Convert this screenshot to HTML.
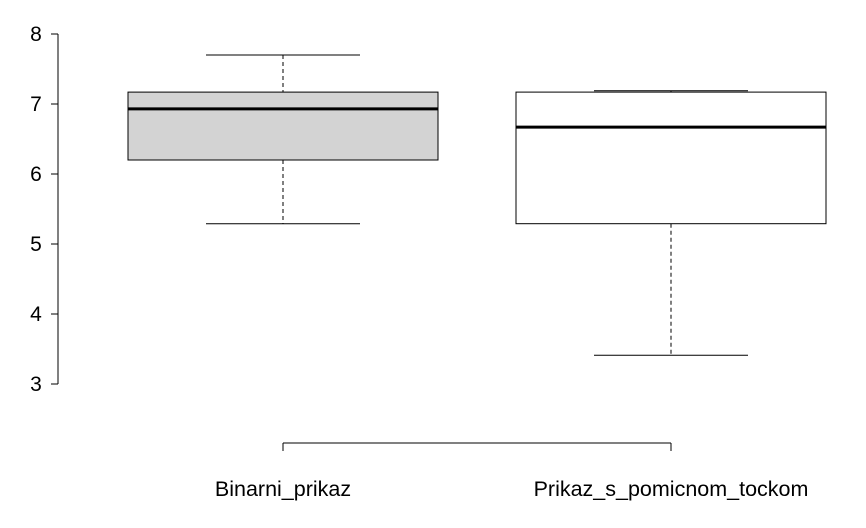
<!DOCTYPE html>
<html><head><meta charset="utf-8"><style>
body{margin:0;background:#fff}
svg{display:block;font-family:"Liberation Sans",Arial,sans-serif}
</style></head><body>
<svg id="chart" width="866" height="528" xmlns="http://www.w3.org/2000/svg"></svg>
<script>
const categories=["Binarni_prikaz","Prikaz_s_pomicnom_tockom"];
const whiskerLow=[5.29,3.41];
const q1=[6.2,5.29];
const medians=[6.93,6.67];
const q3=[7.17,7.17];
const whiskerHigh=[7.7,7.19];
const fills=["#d3d3d3","#ffffff"];
const yTicks=[3,4,5,6,7,8];

const svg=document.getElementById('chart');
const NS="http://www.w3.org/2000/svg";
const y=v=>384-(v-3)*70;
const x=i=>283+i*388;
const halfBox=155, halfCap=77;
function add(tag,attrs,name,parent){
  const e=document.createElementNS(NS,tag);
  for(const k in attrs)e.setAttribute(k,attrs[k]);
  
  
  (parent||svg).appendChild(e);return e;
}
add('line',{x1:58,y1:y(8),x2:58,y2:y(3),stroke:'#000'},'y-axis-line');
yTicks.forEach(t=>{
  add('line',{x1:51,y1:y(t),x2:58,y2:y(t),stroke:'#000'},'y-tick');
  const tx=add('text',{x:36,y:y(t)+7,'font-size':21,'text-anchor':'middle'},'y-tick-label');
  tx.textContent=t;
});
add('line',{x1:x(0),y1:443,x2:x(1),y2:443,stroke:'#000'},'x-axis-line');
categories.forEach((c,i)=>{
  add('line',{x1:x(i),y1:443,x2:x(i),y2:451,stroke:'#000'},'x-tick');
  const tx=add('text',{x:x(i),y:496,'font-size':21.5,'text-anchor':'middle'},'x-tick-label');
  tx.textContent=c;
  const g=add('g',{},'box-'+c.toLowerCase().replace(/_/g,'-'));
  add('line',{x1:x(i),y1:y(whiskerHigh[i]),x2:x(i),y2:y(q3[i]),stroke:'#000','stroke-dasharray':'4,3'},'upper-whisker',g);
  add('line',{x1:x(i),y1:y(q1[i]),x2:x(i),y2:y(whiskerLow[i]),stroke:'#000','stroke-dasharray':'4,3'},'lower-whisker',g);
  add('line',{x1:x(i)-halfCap,y1:y(whiskerHigh[i]),x2:x(i)+halfCap,y2:y(whiskerHigh[i]),stroke:'#000'},'upper-whisker-cap',g);
  add('line',{x1:x(i)-halfCap,y1:y(whiskerLow[i]),x2:x(i)+halfCap,y2:y(whiskerLow[i]),stroke:'#000'},'lower-whisker-cap',g);
  add('rect',{x:x(i)-halfBox,y:y(q3[i]),width:halfBox*2,height:y(q1[i])-y(q3[i]),fill:fills[i],stroke:'#000'},'iqr-box',g);
  add('line',{x1:x(i)-halfBox,y1:y(medians[i]),x2:x(i)+halfBox,y2:y(medians[i]),stroke:'#000','stroke-width':3},'median-line',g);
});
</script>
</body></html>
